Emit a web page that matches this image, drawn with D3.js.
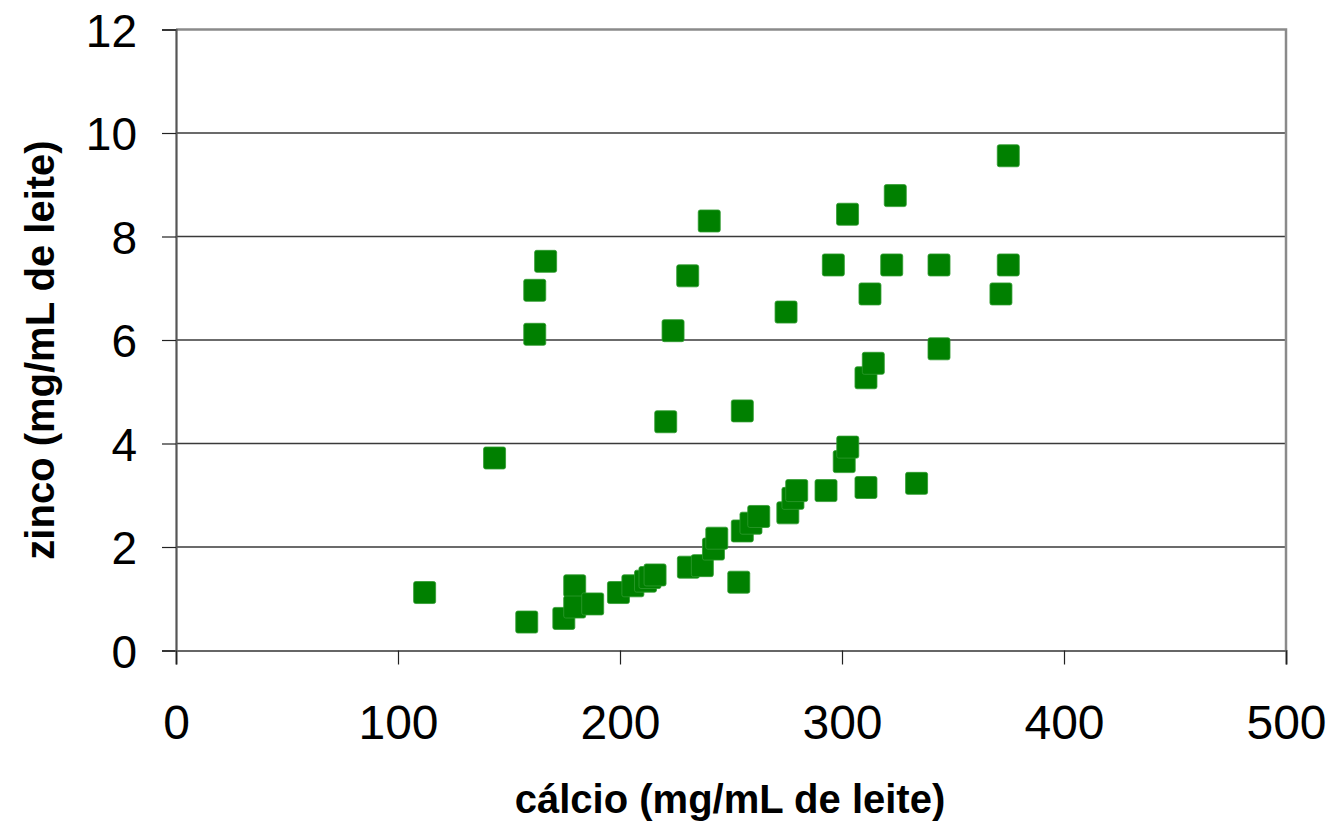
<!DOCTYPE html>
<html>
<head>
<meta charset="utf-8">
<script src="https://cdn.jsdelivr.net/npm/d3@7"></script>
<style>
  html, body { margin: 0; padding: 0; background: #fff; }
  svg { display: block; }
</style>
</head>
<body>
<svg id="chart" width="1335" height="824"></svg>
<script>
// ---- data ----
const calcio = [112, 143.5, 158, 161.6, 161.6, 166.5, 174.7, 179.6, 179.6, 187.7,
  199.3, 205.8, 211.5, 213.5, 215.8, 220.6, 223.9, 230.5, 230.8, 237.1,
  240.2, 242.1, 243.6, 253.5, 255.1, 255.1, 259, 262.5, 274.8, 275.6,
  277.9, 279.6, 292.8, 296.1, 301, 302.6, 302.5, 310.8, 310.8, 312.6,
  314.1, 322.4, 324, 333.6, 343.7, 343.7, 371.6, 374.9, 374.9];
const zinco = [1.12, 3.72, 0.55, 6.11, 6.96, 7.52, 0.62, 1.25, 0.84, 0.90,
  1.12, 1.25, 1.34, 1.41, 1.46, 4.42, 6.18, 7.24, 1.61, 1.64,
  8.30, 1.96, 2.17, 1.32, 4.63, 2.31, 2.46, 2.59, 6.54, 2.66,
  2.94, 3.09, 3.09, 7.45, 3.65, 3.93, 8.43, 5.27, 3.15, 6.89,
  5.55, 7.45, 8.79, 3.23, 7.45, 5.83, 6.89, 7.45, 9.56];
const xTicks = [0, 100, 200, 300, 400, 500];
const yTicks = [0, 2, 4, 6, 8, 10, 12];
const xTitle = "cálcio (mg/mL de leite)";
const yTitle = "zinco (mg/mL de leite)";

// ---- layout ----
const pLeft = 176, pRight = 1286, pTop = 29.5, pBottom = 650.5;
const svg = d3.select("#chart");
const x = d3.scaleLinear().domain([0, 500]).range([pLeft, pRight]);
const y = d3.scaleLinear().domain([0, 12]).range([pBottom, pTop]);

// gridlines
svg.append("g").selectAll("line")
  .data(yTicks.filter(d => d > 0 && d < 12))
  .join("line")
  .attr("x1", pLeft).attr("x2", pRight)
  .attr("y1", d => y(d)).attr("y2", d => y(d))
  .attr("stroke", "#3a3a3a").attr("stroke-width", 1.3);

// top & right border
svg.append("path")
  .attr("d", `M${pLeft},${pTop}H${pRight}V${pBottom}`)
  .attr("fill", "none").attr("stroke", "#8a8a8a").attr("stroke-width", 2.5);

// y axis
const yAxis = svg.append("g").attr("transform", `translate(${pLeft},0)`)
  .call(d3.axisLeft(y).tickValues(yTicks).tickSize(14).tickPadding(25).tickFormat(d3.format("d")));
yAxis.select(".domain").attr("stroke", "#555").attr("stroke-width", 2.2);
yAxis.selectAll(".tick line").attr("stroke", "#222").attr("stroke-width", 1.2);
yAxis.selectAll(".tick text")
  .attr("font-family", "Liberation Sans, Arial, sans-serif")
  .attr("font-size", 46).attr("fill", "#000").attr("dy", "0.36em");

// x axis
const xAxis = svg.append("g").attr("transform", `translate(0,${pBottom})`)
  .call(d3.axisBottom(x).tickValues(xTicks).tickSize(14).tickPadding(40).tickFormat(d3.format("d")));
xAxis.select(".domain").attr("stroke", "#666").attr("stroke-width", 2.2);
xAxis.selectAll(".tick line").attr("stroke", "#222").attr("stroke-width", 1.2);
xAxis.selectAll(".tick text")
  .attr("font-family", "Liberation Sans, Arial, sans-serif")
  .attr("font-size", 48).attr("fill", "#000").attr("dy", "0.71em");

// markers
const s = 22;
svg.append("g").selectAll("rect")
  .data(calcio.map((c, i) => ({c, z: zinco[i]})))
  .join("rect")
  .attr("x", d => x(d.c) - s / 2)
  .attr("y", d => y(d.z) - s / 2)
  .attr("width", s).attr("height", s)
  .attr("rx", 2).attr("ry", 2)
  .attr("fill", "#008000")
  .attr("stroke", "#2e9a2e").attr("stroke-width", 0.8);

// titles
svg.append("text")
  .attr("x", 730).attr("y", 813)
  .attr("text-anchor", "middle")
  .attr("font-family", "Liberation Sans, Arial, sans-serif")
  .attr("font-weight", "bold").attr("font-size", 40).attr("fill", "#000")
  .text(xTitle);

svg.append("text")
  .attr("transform", "translate(54,350) rotate(-90)")
  .attr("text-anchor", "middle")
  .attr("font-family", "Liberation Sans, Arial, sans-serif")
  .attr("font-weight", "bold").attr("font-size", 40).attr("fill", "#000")
  .text(yTitle);
</script>
</body>
</html>
